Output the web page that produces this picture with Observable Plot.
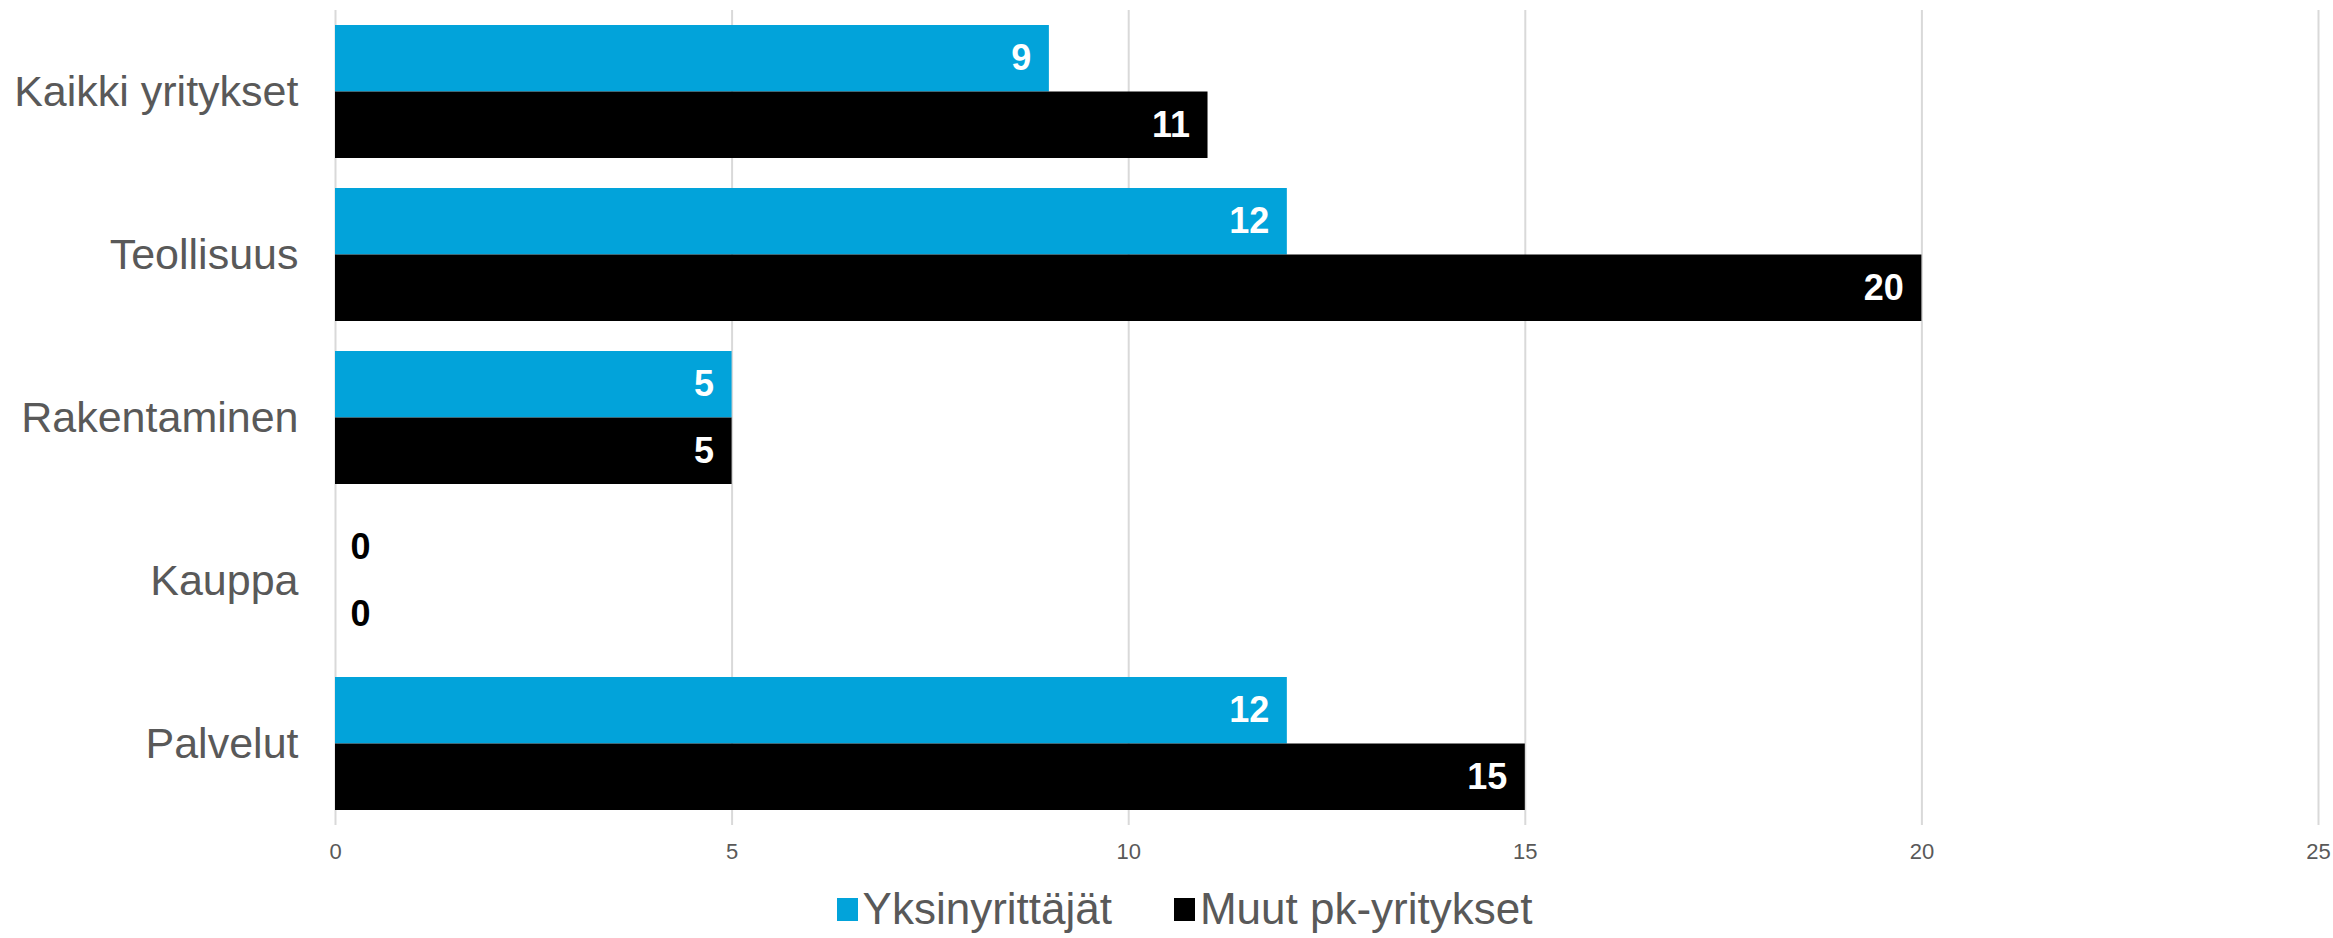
<!DOCTYPE html>
<html>
<head>
<meta charset="utf-8">
<script src="https://cdn.jsdelivr.net/npm/d3@7"></script>
<script src="https://cdn.jsdelivr.net/npm/@observablehq/plot@0.6"></script>
<style>
  html, body { margin: 0; padding: 0; background: #fff; }
  #chart { width: 2333px; }
  .legend { display: flex; justify-content: center; align-items: center; gap: 62px;
    font-family: "Liberation Sans", Arial, sans-serif; font-size: 44px; color: #595959;
    height: 58px; padding-left: 36px; box-sizing: border-box; width: 2333px; }
  .legend span.item { display: inline-flex; align-items: center; }
  .legend span.sw { display: inline-block; width: 21px; height: 23px; margin-right: 5px; }
</style>
</head>
<body>
<div id="chart"></div>
<script>
const categories = ["Kaikki yritykset", "Teollisuus", "Rakentaminen", "Kauppa", "Palvelut"];
const series = ["Yksinyrittäjät", "Muut pk-yritykset"];
const yksinyrittajat = [9, 12, 5, 0, 12];
const muutPk = [11, 20, 5, 0, 15];
const xTicks = [0, 5, 10, 15, 20, 25];
const colors = ["#02A3DA", "#000000"];

const W = 2333, H = 880;
const marginTop = 10, marginBottom = 55, marginLeft = 335, marginRight = 15;
const padInner = 0.184, padOuter = 0.092;
const step = (H - marginTop - marginBottom) / (categories.length - padInner + 2 * padOuter);
const bw = step * (1 - padInner);

const data = [];
categories.forEach((c, i) => {
  data.push({category: c, series: series[0], value: yksinyrittajat[i], idx: 0});
  data.push({category: c, series: series[1], value: muutPk[i], idx: 1});
});
const font = '"Liberation Sans", Arial, sans-serif';

const marks = [
  Plot.ruleX(xTicks, {stroke: "#d9d9d9", strokeWidth: 2}),
];
series.forEach((s, k) => {
  const d = data.filter(r => r.idx === k);
  marks.push(Plot.barX(d, {
    x: "value", y: "category", fill: colors[k],
    insetTop: k === 1 ? bw / 2 : 0,
    insetBottom: k === 0 ? bw / 2 : 0
  }));
  const dy = k === 0 ? -bw / 4 : bw / 4;
  marks.push(Plot.text(d.filter(r => r.value > 0), {
    x: "value", y: "category", text: r => String(r.value),
    textAnchor: "end", dx: -18, dy, fill: "#ffffff",
    fontSize: 36, fontWeight: "bold", fontFamily: font
  }));
  marks.push(Plot.text(d.filter(r => r.value === 0), {
    x: "value", y: "category", text: r => String(r.value),
    textAnchor: "start", dx: 15, dy, fill: "#000000",
    fontSize: 36, fontWeight: "bold", fontFamily: font
  }));
});
marks.push(Plot.axisX({ticks: xTicks, tickSize: 0, tickPadding: 18, fontSize: 22,
  fill: "#595959", fontFamily: font, label: null}));
marks.push(Plot.axisY({tickSize: 0, tickPadding: 37, fontSize: 43, fill: "#595959",
  fontFamily: font, label: null}));

const chart = Plot.plot({
  width: W, height: H,
  marginTop, marginBottom, marginLeft, marginRight,
  style: {background: "#fff", fontFamily: font},
  x: {domain: [0, 25]},
  y: {domain: categories, paddingInner: padInner, paddingOuter: padOuter},
  marks
});
document.getElementById("chart").appendChild(chart);

const legend = document.createElement("div");
legend.className = "legend";
series.forEach((s, k) => {
  const item = document.createElement("span");
  item.className = "item";
  const sw = document.createElement("span");
  sw.className = "sw";
  sw.style.background = colors[k];
  item.appendChild(sw);
  item.appendChild(document.createTextNode(s));
  legend.appendChild(item);
});
document.getElementById("chart").appendChild(legend);
</script>
</body>
</html>
